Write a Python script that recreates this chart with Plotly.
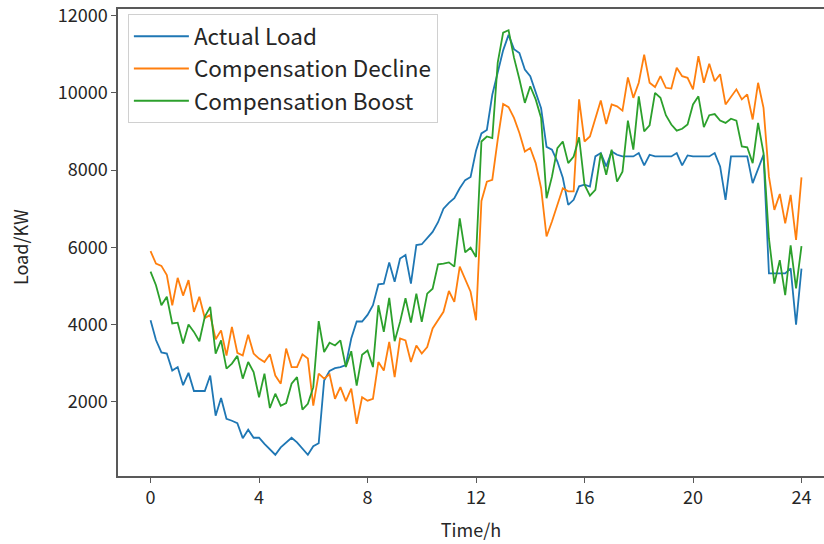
import plotly.graph_objects as go

# time in hours (12-minute steps, 0..24)
hours = [round(i * 0.2, 1) for i in range(121)]

actual_load = [
    4110, 3600, 3280, 3250, 2810, 2900, 2430, 2750, 2280, 2280,
    2280, 2680, 1640, 2100, 1560, 1510, 1450, 1060, 1280, 1070,
    1070, 910, 760, 630, 820, 950, 1070, 950, 780, 630,
    850, 930, 2550, 2800, 2870, 2900, 2950, 3640, 4080, 4080,
    4250, 4500, 5040, 5060, 5610, 5110, 5710, 5800, 5060, 6060,
    6080, 6250, 6400, 6650, 7000, 7150, 7270, 7530, 7740, 7820,
    8500, 8950, 9040, 9950, 10550, 11100, 11500, 11130, 11030, 10600,
    10430, 10000, 9600, 8600, 8530, 8220, 7800, 7100, 7230, 7580,
    7620, 7575, 8354, 8440, 8094, 8484, 8397, 8354, 8354, 8354,
    8440, 8120, 8397, 8354, 8354, 8354, 8354, 8440, 8120, 8380,
    8354, 8354, 8354, 8354, 8440, 8094, 7228, 8354, 8354, 8354,
    8354, 7661, 8007, 8397, 5324, 5324, 5324, 5324, 5454, 4000,
    5450,
]

comp_decline = [
    5900, 5580, 5520, 5280, 4500, 5210, 4750, 5150, 4330, 4720,
    4170, 4250, 3620, 3850, 3200, 3940, 3270, 3200, 3740, 3250,
    3120, 3030, 3230, 2680, 2470, 3380, 2900, 2900, 3230, 3120,
    1900, 2730, 2600, 2710, 2080, 2380, 2020, 2340, 1430, 2120,
    2030, 2080, 3030, 2810, 3550, 2640, 3640, 3590, 3030, 3460,
    3250, 3420, 3900, 4110, 4330, 4870, 4590, 5500, 5150, 4850,
    4110, 7200, 7700, 7750, 8790, 9710, 9630, 9350, 8960, 8480,
    8570, 8180, 7530, 6280, 6670, 7100, 7530, 7450, 7450, 9830,
    8740, 8870, 9310, 9800, 9190, 9700, 9650, 9540, 10400, 9870,
    10260, 10990, 10260, 10150, 10430, 10130, 10110, 10650, 10430, 10390,
    10090, 10950, 10260, 10750, 10300, 10480, 9700, 9890, 10090, 9830,
    9960, 9310, 10260, 9610, 7830, 6970, 7380, 6620, 7360, 6190,
    7810,
]

comp_boost = [
    5370, 5020, 4500, 4720, 4030, 4050, 3510, 4000, 3810, 3570,
    4200, 4460, 3250, 3590, 2860, 2990, 3190, 2600, 3030, 2770,
    2120, 2730, 1840, 2210, 1900, 1970, 2470, 2640, 1800, 1950,
    2380, 4090, 3290, 3530, 3460, 3590, 2900, 3310, 2420, 3220,
    3330, 2900, 4500, 3810, 4690, 3570, 4070, 4680, 4050, 4800,
    4070, 4800, 4930, 5560, 5580, 5610, 5500, 6750, 5870, 5990,
    5750, 8740, 8870, 8830, 10780, 11560, 11620, 10910, 10350, 9740,
    10170, 9830, 9350, 7270, 7830, 8570, 8740, 8180, 8350, 8850,
    7620, 7340, 7490, 8440, 7880, 8530, 7700, 7960, 9280, 8530,
    9910, 9000, 9160, 10000, 9870, 9420, 9180, 9020, 9070, 9180,
    9700, 9910, 9110, 9420, 9450, 9280, 9220, 9330, 9280, 8610,
    8590, 8180, 9220, 8440, 6230, 5060, 5670, 4760, 6050, 4940,
    6030,
]

series_names = ["Actual Load", "Compensation Decline", "Compensation Boost"]
series_colors = ["#1f77b4", "#ff7f0e", "#2ca02c"]
x_ticks = [0, 4, 8, 12, 16, 20, 24]
y_ticks = [2000, 4000, 6000, 8000, 10000, 12000]

FONT = "Noto Sans CJK SC"

fig = go.Figure()
for name, vals, col in zip(series_names, [actual_load, comp_decline, comp_boost], series_colors):
    fig.add_trace(go.Scatter(x=hours, y=vals, mode="lines", name=name,
                             line=dict(color=col, width=1.8)))

axis_common = dict(
    showgrid=False, zeroline=False, showline=True, linecolor="#595959", linewidth=1.5,
    ticks="outside", ticklen=5, tickwidth=1.2, tickcolor="#595959",
    tickfont=dict(family=FONT, size=18, color="#262626"),
    automargin=False, ticklabeloverflow="allow",
)

fig.update_layout(
    width=824, height=544,
    margin=dict(l=118, r=0, t=9, b=68),
    paper_bgcolor="white", plot_bgcolor="white",
    font=dict(family=FONT, size=18, color="#262626"),
    xaxis=dict(range=[-1.2, 24.83], tickvals=x_ticks, ticktext=[str(t) for t in x_ticks],
               mirror=True,
               title=dict(text="Time/h", font=dict(family=FONT, size=18), standoff=16),
               **axis_common),
    yaxis=dict(range=[80, 12170], tickvals=y_ticks, ticktext=[str(t) for t in y_ticks],
               mirror=False, **axis_common),
    legend=dict(x=0.014, y=0.989, xanchor="left", yanchor="top",
                bgcolor="rgba(255,255,255,0.8)", bordercolor="#d0d0d0", borderwidth=1,
                font=dict(family=FONT, size=22.5, color="#262626"),
                tracegroupgap=0, itemwidth=55),
    showlegend=True,
    annotations=[dict(text="Load/KW", textangle=-90, xref="paper", yref="paper",
                      x=-0.139, y=0.49, xanchor="center", yanchor="middle",
                      showarrow=False, font=dict(family=FONT, size=18, color="#262626"))],
)

fig.write_html("out.html", config={"displayModeBar": False},
               post_script="document.body.style.margin='0';document.body.style.overflow='hidden';")
